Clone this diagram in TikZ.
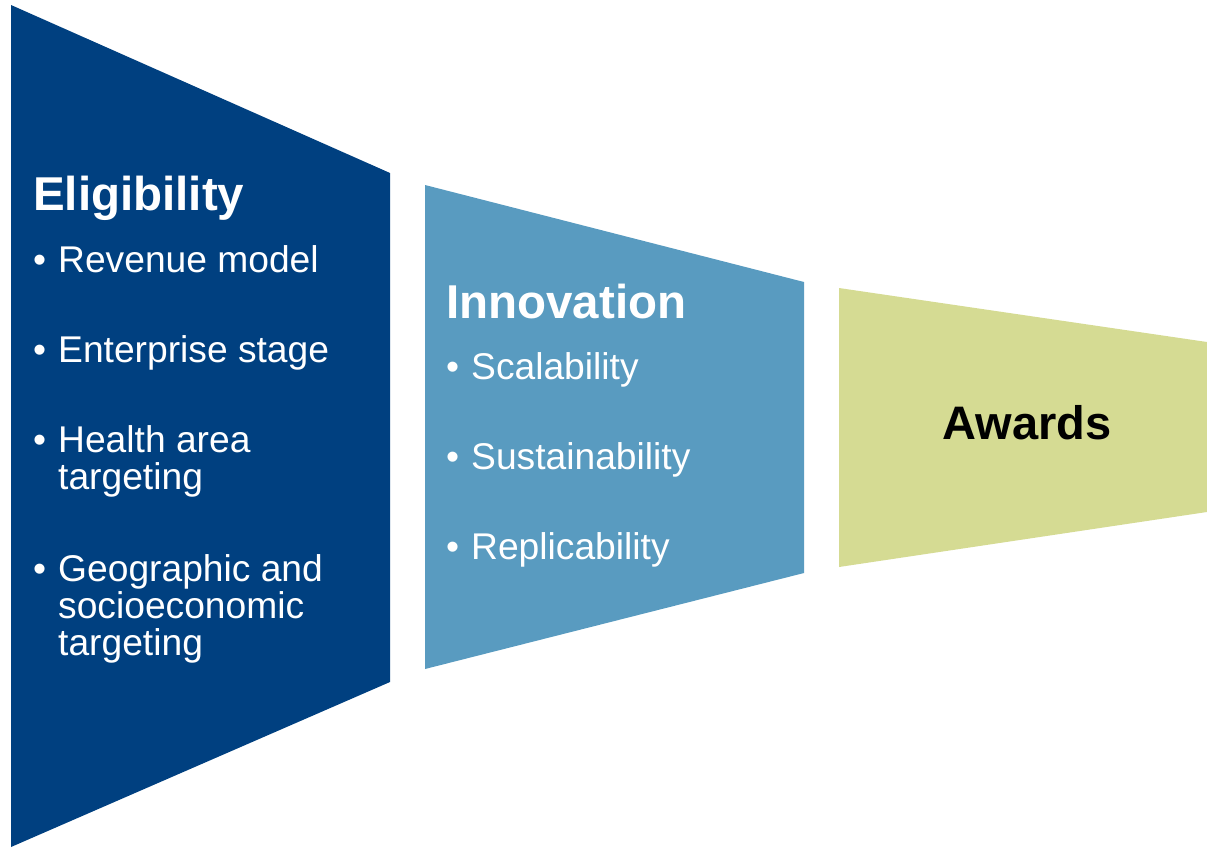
\documentclass[tikz,border=0pt]{standalone}
\usepackage{fontspec}
\setmainfont{Liberation Sans}
\definecolor{elig}{RGB}{0,64,128}
\definecolor{innov}{RGB}{89,155,192}
\definecolor{award}{RGB}{213,219,147}
\begin{document}
\begin{tikzpicture}[x=1pt,y=-1pt,
  head/.style={anchor=base west,inner sep=0pt,font=\fontsize{47.5}{49}\selectfont\bfseries,text=white},
  item/.style={anchor=base west,inner sep=0pt,font=\fontsize{37.2}{39}\selectfont,text=white},
  bul/.style={anchor=base west,inner sep=0pt,font=\fontsize{37.2}{39}\selectfont,text=white}]
\useasboundingbox (0,0) rectangle (1207,847);
% stages
\fill[elig] (11,5) -- (390,173) -- (390,682) -- (11,847) -- cycle;
\fill[innov] (425,185) -- (804,282) -- (804,573) -- (425,669) -- cycle;
\fill[award] (839,288) -- (1207,342) -- (1207,512) -- (839,567) -- cycle;
% Eligibility
\node[head] (eh) at (33,210) {Eligibility};
\node[bul] (b1) at (33,272) {•};
\node[item] (e1) at (58,272) {Revenue model};
\node[bul] (b2) at (33,362) {•};
\node[item] (e2) at (58,362) {Enterprise stage};
\node[bul] (b3) at (33,452) {•};
\node[item] (e3) at (58,452) {Health area};
\node[item] (e3b) at (58,489) {targeting};
\node[bul] (b4) at (33,581) {•};
\node[item] (e4) at (58,581) {Geographic and};
\node[item] (e4b) at (58,618) {socioeconomic};
\node[item] (e4c) at (58,655) {targeting};
% Innovation
\node[head] (ih) at (446,318) {Innovation};
\node[bul] (c1) at (446,379) {•};
\node[item] (i1) at (471,379) {Scalability};
\node[bul] (c2) at (446,469) {•};
\node[item] (i2) at (471,469) {Sustainability};
\node[bul] (c3) at (446,559) {•};
\node[item] (i3) at (471,559) {Replicability};
% Awards
\node[anchor=base,inner sep=0pt,font=\fontsize{47}{49}\selectfont\bfseries,text=black] (aw) at (1027,439) {Awards};
\end{tikzpicture}
\end{document}
